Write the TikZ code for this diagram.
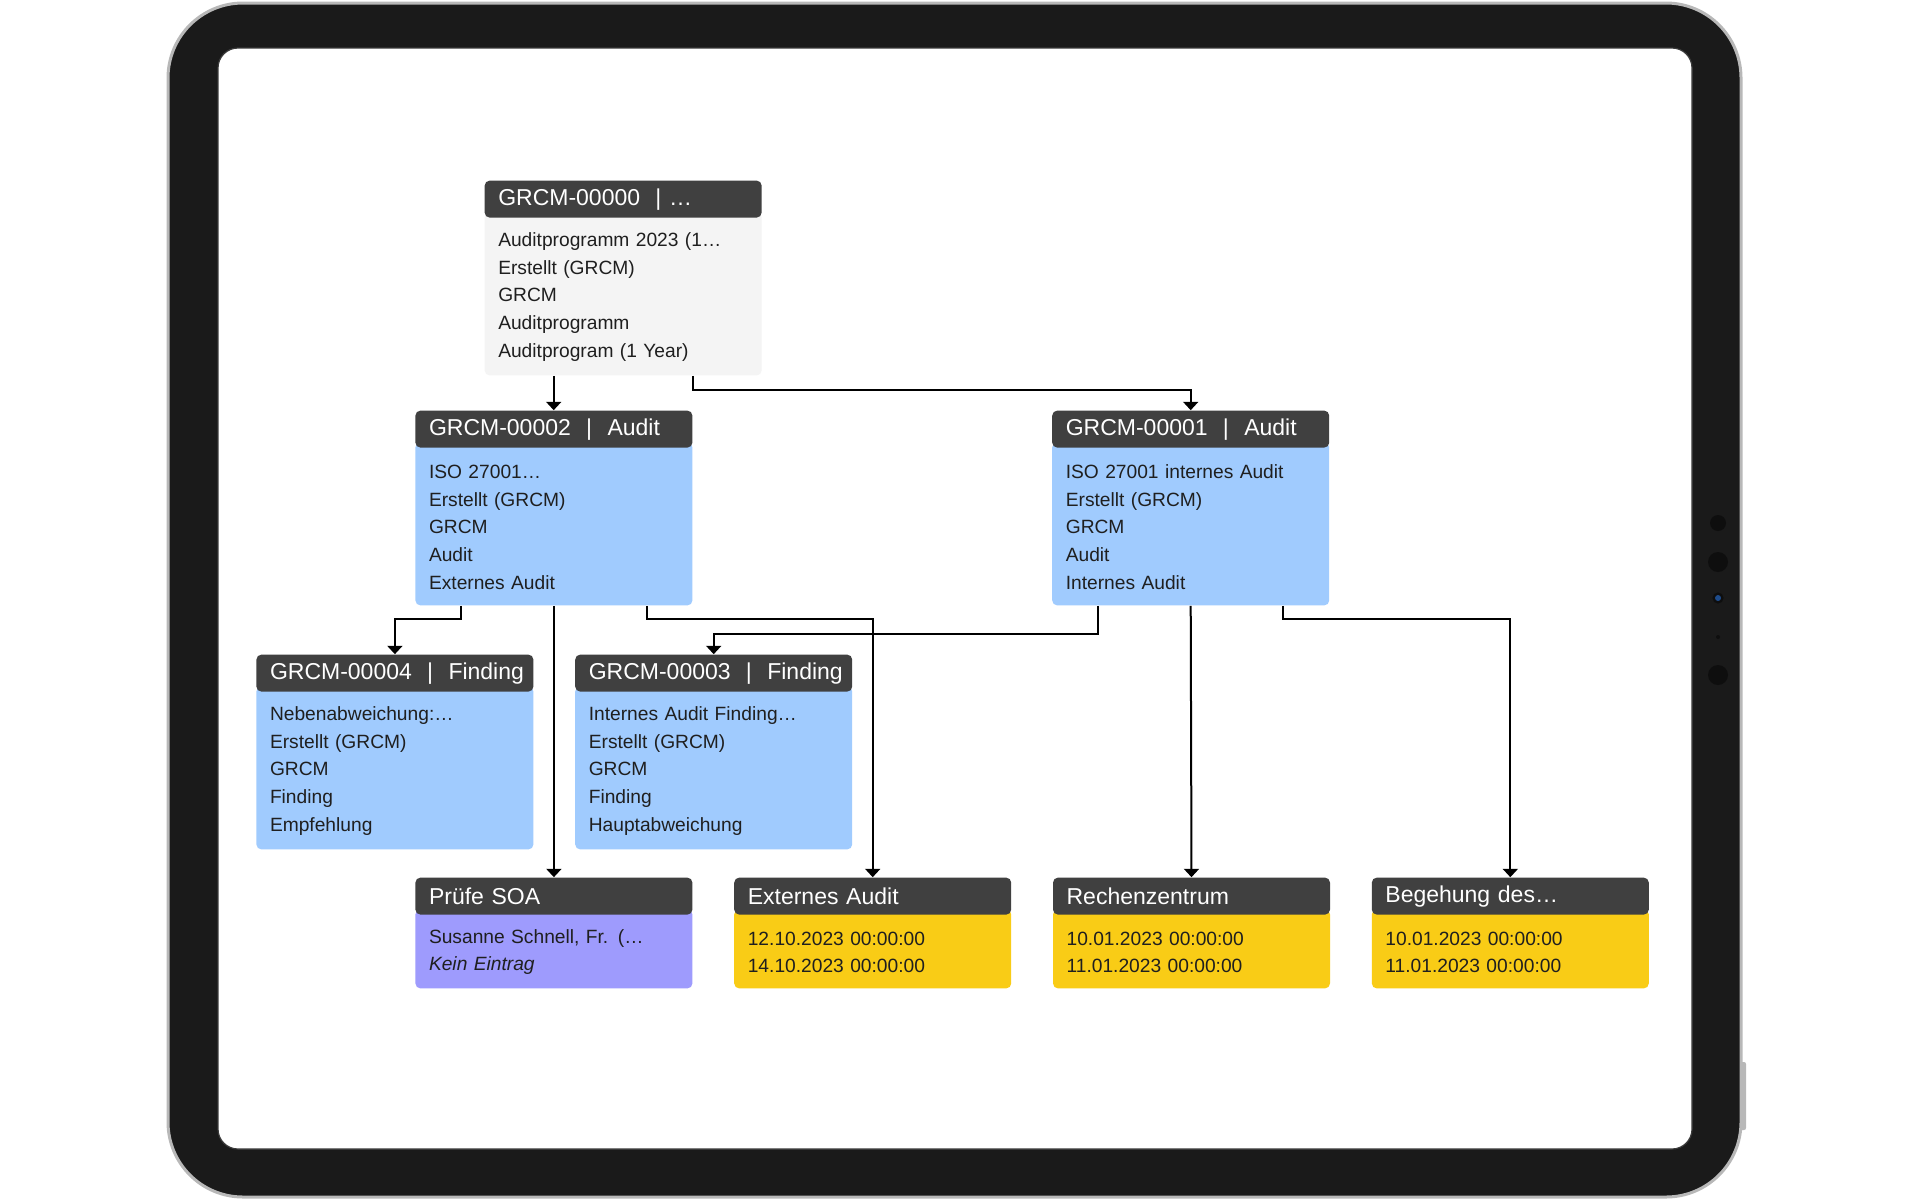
\documentclass[tikz,border=0pt]{standalone}
\usepackage{fontspec}
\setmainfont{Liberation Sans}
\usetikzlibrary{arrows.meta,positioning,calc}
\definecolor{bezel}{HTML}{1A1A1A}
\definecolor{rim}{HTML}{B8B8B8}
\definecolor{screenedge}{HTML}{3A3A3A}
\definecolor{dotgray}{HTML}{0E0E0E}
\definecolor{camblue}{HTML}{1E4C8C}
\definecolor{headgray}{HTML}{404040}
\definecolor{cardgray}{HTML}{F4F4F4}
\definecolor{cardblue}{HTML}{A0CBFE}
\definecolor{cardviolet}{HTML}{9E9BFD}
\definecolor{cardyellow}{HTML}{F9CC16}
\newcommand\headfont{\fontsize{11.5}{14}\selectfont\hyphenpenalty=10000\exhyphenpenalty=10000\hbadness=10000\hfuzz=20pt\relax}
\newcommand\bodyfont{\fontsize{9.6}{13.8}\selectfont}
\tikzset{
    head/.style =   {rectangle,
                    rounded corners=2.5pt,
                    fill=headgray,
                    text=white,
                    font=\headfont,
                    text width=124.9pt,
                    inner xsep=6.8pt,
                    align=left,
                    minimum height=18.5pt},
    body/.style =   {rectangle,
                    rounded corners=2.5pt,
                    text=black!88,
                    font=\bodyfont,
                    text width=124.9pt,
                    inner xsep=6.8pt,
                    inner ysep=0pt,
                    align=left,
                    minimum height=81.5pt,
                    execute at begin node={\rule{0pt}{10pt}},
                    anchor=north west},
    program/.style = {body, fill=cardgray},
    audit/.style =  {body, fill=cardblue},
    task/.style =   {body, fill=cardviolet, minimum height=39.5pt},
    event/.style =  {body, fill=cardyellow, minimum height=39.5pt},
    -,
    link/.style =   {draw=black, line width=1pt, ->},
    >={Triangle[width=7.5pt,length=4.2pt]}}

\begin{document}
\begin{tikzpicture}[x=0.5pt, y=-0.5pt]
    \useasboundingbox (0,0) rectangle (1920,1200);

    % tablet
    \filldraw[fill=bezel, draw=rim, line width=1.5pt, rounded corners=37.5pt] (168,3) rectangle (1741,1197);
    \fill[rim, rounded corners=1pt] (1740,1062) rectangle (1746,1130);
    \filldraw[fill=white, draw=screenedge, line width=0.6pt, rounded corners=10pt] (218,48) rectangle (1692,1149);
    \fill[dotgray] (1718,523) circle (4pt);
    \fill[dotgray] (1718,562) circle (5pt);
    \fill[dotgray] (1718,598) circle (2.8pt);
    \fill[camblue] (1718,598) circle (1.5pt);
    \fill[dotgray] (1718,637) circle (1pt);
    \fill[dotgray] (1718,675) circle (5pt);

    % cards
    \node[program]  (g0b)  at (484.25,212)      {Auditprogramm 2023 (1…\\Erstellt (GRCM)\\GRCM\\Auditprogramm\\Auditprogram (1 Year)};
    \node[audit]    (g2b)  at (415,442)         {ISO 27001…\\Erstellt (GRCM)\\GRCM\\Audit\\Externes Audit};
    \node[audit]    (g1b)  [right=179.5pt of g2b] {ISO 27001 internes Audit\\Erstellt (GRCM)\\GRCM\\Audit\\Internes Audit};
    \node[audit]    (g4b)  at (256,686)         {Nebenabweichung:…\\Erstellt (GRCM)\\GRCM\\Finding\\Empfehlung};
    \node[audit]    (g3b)  [right=20.5pt of g4b]  {Internes Audit Finding…\\Erstellt (GRCM)\\GRCM\\Finding\\Hauptabweichung};
    \node[task]     (soab) at (415,909)         {Susanne Schnell, Fr. (…\\\textit{Kein Eintrag}};
    \node[event]    (extb) [right=20.5pt of soab] {12.10.2023 00:00:00\\14.10.2023 00:00:00};
    \node[event]    (rzb)  [right=20.5pt of extb] {10.01.2023 00:00:00\\11.01.2023 00:00:00};
    \node[event]    (begb) [right=20.5pt of rzb]  {10.01.2023 00:00:00\\11.01.2023 00:00:00};

    \node[head]     (g0)   [above=-3pt of g0b]  {GRCM-00000~~|~…};
    \node[head]     (g2)   [above=-3pt of g2b]  {GRCM-00002~~|~~Audit};
    \node[head]     (g1)   [above=-3pt of g1b]  {GRCM-00001~~|~~Audit};
    \node[head]     (g4)   [above=-3pt of g4b]  {GRCM-00004~~|~~Finding};
    \node[head]     (g3)   [above=-3pt of g3b]  {GRCM-00003~~|~~Finding};
    \node[head]     (soa)  [above=-3pt of soab] {Prüfe SOA};
    \node[head]     (ext)  [above=-3pt of extb] {Externes Audit};
    \node[head]     (rz)   [above=-3pt of rzb]  {Rechenzentrum};
    \node[head]     (beg)  [above=-3pt of begb] {Begehung des…};

    % connectors
    \coordinate (p0) at ($(g0b.south west)!0.25!(g0b.south east)$);
    \draw[link] (p0) -- (p0 |- g2.north);
    \draw[link] ($(g0b.south west)!0.75!(g0b.south east)$) -- ++(0,14) -| (g1.north);
    \draw[link] ($(g2b.south west)!0.1667!(g2b.south east)$) -- ++(0,13) -| (g4.north);
    \draw[link] (g2b.south) -- (soa.north);
    \draw[link] ($(g2b.south west)!0.8333!(g2b.south east)$) -- ++(0,13) -| (ext.north);
    \draw[link] ($(g1b.south west)!0.1667!(g1b.south east)$) -- ++(0,28) -| (g3.north);
    \draw[link] (g1b.south) -- (rz.north);
    \draw[link] ($(g1b.south west)!0.8333!(g1b.south east)$) -- ++(0,13) -| (beg.north);
\end{tikzpicture}
\end{document}
